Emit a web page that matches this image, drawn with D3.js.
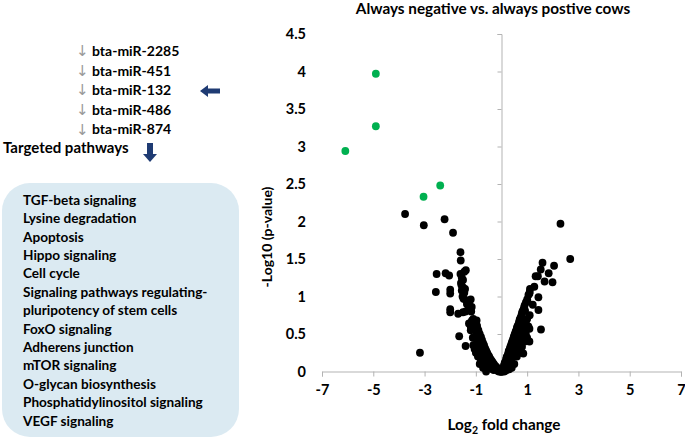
<!DOCTYPE html>
<html>
<head>
<meta charset="utf-8">
<script src="https://cdn.jsdelivr.net/npm/d3@7"></script>
<style>
  body { margin: 0; background: #fff; }
  text { font-family: Lato, "Open Sans", sans-serif; font-weight: 700; fill: #000; }
</style>
</head>
<body>
<div id="chart"></div>
<script>
// miRNAs and pathways (left panel)
var mirnas = ['bta-miR-2285', 'bta-miR-451', 'bta-miR-132', 'bta-miR-486', 'bta-miR-874'];
var pathways = ['TGF-beta signaling', 'Lysine degradation', 'Apoptosis', 'Hippo signaling', 'Cell cycle',
  'Signaling pathways regulating-', 'pluripotency of stem cells', 'FoxO signaling', 'Adherens junction',
  'mTOR signaling', 'O-glycan biosynthesis', 'Phosphatidylinositol signaling', 'VEGF signaling'];

var xTicks = [-7, -5, -3, -1, 1, 3, 5, 7];
var yTicks = [0, 0.5, 1, 1.5, 2, 2.5, 3, 3.5, 4, 4.5];

// significant miRNAs (green)
var sigPoints = [[-4.9, 3.97], [-4.9, 3.27], [-6.09, 2.94], [-2.39, 2.48], [-3.04, 2.33]];

// rest of the miRNAs (black)
var otherPoints = [
  [-3.76, 2.10], [-3.03, 1.95], [-2.22, 2.03], [-1.89, 1.85], [-1.60, 1.59], [-1.59, 1.48],
  [-2.53, 1.30], [-2.18, 1.31], [-2.04, 1.28], [-2.56, 1.06], [-2.00, 1.09], [-2.00, 1.04],
  [-2.00, 0.83], [-2.00, 0.79], [-1.69, 0.77], [-1.65, 0.47], [-1.40, 0.34], [-3.18, 0.25], [-0.60, 0.00],
  [-1.55, 1.25], [-1.50, 1.22], [-1.58, 1.18], [-1.50, 1.12], [-1.55, 1.08], [-1.45, 1.05], [-1.52, 1.00],
  [-1.48, 0.97], [-1.38, 0.95], [-1.35, 0.90], [-1.30, 0.92], [-1.25, 0.88], [-1.22, 0.84], [-1.18, 0.80],
  [-1.30, 0.82], [-1.40, 0.80], [-1.50, 0.79], [-1.20, 0.96], [-1.60, 1.30], [-1.45, 1.33], [-1.39, 1.35],
  [-1.56, 1.15], [-1.42, 1.10], [-1.16, 0.86], [-1.27, 0.64], [-1.20, 0.60], [-1.15, 0.67], [-1.10, 0.70],
  [-1.15, 0.68], [-1.10, 0.62], [-1.05, 0.66], [-1.00, 0.58], [-0.98, 0.52], [-0.95, 0.60], [-0.92, 0.48],
  [-0.90, 0.55], [-0.88, 0.44], [-0.85, 0.50], [-0.83, 0.40], [-0.80, 0.46], [-0.78, 0.36], [-0.76, 0.42],
  [-0.74, 0.33], [-0.72, 0.38], [-0.70, 0.30], [-0.68, 0.35], [-0.66, 0.27], [-0.64, 0.31], [-0.62, 0.24],
  [-0.60, 0.28], [-0.58, 0.22], [-0.56, 0.25], [-0.54, 0.19], [-0.52, 0.22], [-0.50, 0.17], [-0.48, 0.20],
  [-0.46, 0.15], [-0.44, 0.17], [-0.42, 0.13], [-0.40, 0.15], [-0.38, 0.11], [-0.36, 0.13], [-0.34, 0.09],
  [-0.32, 0.11], [-0.30, 0.08], [-0.28, 0.09], [-0.26, 0.06], [-0.24, 0.07], [-0.22, 0.05], [-0.20, 0.06],
  [-0.18, 0.04], [-0.16, 0.04], [-0.14, 0.03], [-0.12, 0.02], [-0.10, 0.02], [-0.08, 0.01], [-0.06, 0.01],
  [-0.04, 0.00], [-0.02, 0.00], [-1.20, 0.55], [-1.05, 0.45], [-0.95, 0.38], [-0.90, 0.30], [-1.00, 0.25],
  [-0.85, 0.22], [-0.75, 0.20], [-0.70, 0.15], [-0.60, 0.12], [-0.50, 0.08], [-0.45, 0.05], [-0.35, 0.03],
  [-0.30, 0.02], [-0.55, 0.05], [-0.65, 0.08], [-0.80, 0.15], [-1.10, 0.35], [-0.97, 0.68], [-0.97, 0.62],
  [-1.12, 0.45], [-1.05, 0.30], [-0.92, 0.20], [-0.85, 0.10], [-0.72, 0.05],
  [-0.10, 0.00], [0.00, 0.00], [0.10, 0.00], [-0.15, 0.01], [0.15, 0.01],
  [0.02, 0.00], [0.05, 0.03], [0.08, 0.06], [0.10, 0.08], [0.12, 0.11], [0.15, 0.13], [0.18, 0.16],
  [0.20, 0.19], [0.22, 0.20], [0.25, 0.23], [0.28, 0.27], [0.30, 0.28], [0.33, 0.31], [0.35, 0.33],
  [0.38, 0.36], [0.40, 0.38], [0.42, 0.40], [0.45, 0.43], [0.48, 0.46], [0.50, 0.48], [0.52, 0.50],
  [0.55, 0.53], [0.58, 0.55], [0.60, 0.58], [0.62, 0.60], [0.65, 0.62], [0.68, 0.65], [0.70, 0.68],
  [0.72, 0.70], [0.75, 0.72], [0.78, 0.75], [0.80, 0.78], [0.82, 0.80], [0.85, 0.82], [0.88, 0.85],
  [0.90, 0.88], [0.95, 0.92], [1.00, 0.96], [1.05, 1.02], [1.10, 1.06],
  [0.15, 0.05], [0.20, 0.08], [0.25, 0.10], [0.30, 0.12], [0.35, 0.15], [0.40, 0.18], [0.45, 0.20],
  [0.50, 0.25], [0.55, 0.28], [0.60, 0.30], [0.65, 0.35], [0.70, 0.40], [0.75, 0.45], [0.80, 0.50],
  [0.85, 0.55], [0.90, 0.60], [0.95, 0.65], [1.00, 0.70], [0.60, 0.20], [0.70, 0.25], [0.80, 0.33],
  [0.90, 0.40], [1.00, 0.45], [0.50, 0.10], [0.40, 0.05], [0.30, 0.03], [0.10, 0.01], [0.20, 0.02],
  [1.10, 0.75], [1.05, 0.60], [0.95, 0.50], [0.85, 0.24], [1.09, 0.40], [1.09, 0.57], [1.54, 0.56],
  [0.92, 0.81], [1.22, 0.89], [1.44, 0.99], [1.44, 0.82], [1.01, 0.94], [1.09, 1.04], [1.11, 1.10],
  [1.28, 1.13], [1.68, 1.20], [1.99, 1.19], [1.33, 1.27], [1.42, 1.27], [1.84, 1.31], [1.53, 1.36],
  [2.05, 1.41], [1.60, 1.45], [2.68, 1.50], [2.30, 1.97]
];

var width = 685, height = 439;

var svg = d3.select('#chart').append('svg')
  .attr('width', width)
  .attr('height', height);

// ---- left panel ----
var arrowBlue = '#1f3b73';

var mir = svg.append('g');
mirnas.forEach(function(m, i) {
  var yy = 51 + i * 19.6;
  mir.append('text')
    .attr('x', 76).attr('y', yy).attr('dy', '0.35em')
    .style('font-family', 'DejaVu Sans').style('font-weight', 400)
    .style('font-size', '15px').style('fill', '#999999')
    .text('\u2193');
  mir.append('text')
    .attr('x', 92).attr('y', yy).attr('dy', '0.35em')
    .style('font-size', '14px')
    .text(m);
});

// block arrow pointing at the miRNAs
svg.append('path')
  .attr('d', 'M200,91 L208,85 L208,88.5 L220,88.5 L220,93.5 L208,93.5 L208,97 Z')
  .attr('fill', arrowBlue);

svg.append('text')
  .attr('x', 3).attr('y', 148).attr('dy', '0.35em')
  .style('font-size', '15px')
  .text('Targeted pathways');

// block arrow pointing down
svg.append('path')
  .attr('d', 'M147,143 L153,143 L153,154 L157,154 L150,162 L143,154 L147,154 Z')
  .attr('fill', arrowBlue);

svg.append('rect')
  .attr('x', 2).attr('y', 183)
  .attr('width', 237).attr('height', 254)
  .attr('rx', 28).attr('ry', 28)
  .attr('fill', '#dbeaf2');

svg.append('g').selectAll('text')
  .data(pathways)
  .enter().append('text')
  .attr('x', 23)
  .attr('y', function(d, i) { return 200 + i * 18.4; })
  .attr('dy', '0.35em')
  .style('font-size', '13.6px')
  .text(function(d) { return d; });

// ---- volcano plot ----
var x = d3.scaleLinear().domain([-7, 7]).range([322, 681]);
var y = d3.scaleLinear().domain([0, 4.5]).range([371.5, 34]);

var axisColor = '#b3b3b3';

var yAxis = svg.append('g')
  .attr('transform', 'translate(' + x(0) + ',0)')
  .call(d3.axisLeft(y).tickValues(yTicks).tickSize(4).tickFormat(''));
yAxis.selectAll('path, line').attr('stroke', axisColor);

var xAxis = svg.append('g')
  .attr('transform', 'translate(0,' + y(0) + ')')
  .call(d3.axisBottom(x).tickValues(xTicks).tickSize(5).tickPadding(8)
    .tickFormat(function(d) { return String(d); }));
xAxis.selectAll('path, line').attr('stroke', axisColor);
xAxis.selectAll('text')
  .style('font-family', 'Lato, sans-serif').style('font-weight', 700)
  .style('font-size', '14.5px').attr('fill', '#000');

// y tick labels sit at the left edge of the plot
svg.append('g').selectAll('text')
  .data(yTicks)
  .enter().append('text')
  .attr('x', 306)
  .attr('y', function(d) { return y(d); })
  .attr('dy', '0.35em')
  .attr('text-anchor', 'end')
  .style('font-size', '14.5px')
  .text(function(d) { return d; });

svg.append('g').selectAll('circle')
  .data(otherPoints)
  .enter().append('circle')
  .attr('cx', function(d) { return x(d[0]); })
  .attr('cy', function(d) { return y(d[1]); })
  .attr('r', 3.9)
  .attr('fill', '#000');

svg.append('g').selectAll('circle')
  .data(sigPoints)
  .enter().append('circle')
  .attr('cx', function(d) { return x(d[0]); })
  .attr('cy', function(d) { return y(d[1]); })
  .attr('r', 3.9)
  .attr('fill', '#00b050');

// titles
svg.append('text')
  .attr('x', 493).attr('y', 9).attr('dy', '0.35em')
  .attr('text-anchor', 'middle')
  .style('font-size', '15.3px')
  .text('Always negative vs. always postive cows');

var xt = svg.append('text')
  .attr('x', 504).attr('y', 425).attr('dy', '0.35em')
  .attr('text-anchor', 'middle')
  .style('font-size', '15.3px');
xt.append('tspan').text('Log');
xt.append('tspan').attr('dy', '4').style('font-size', '10.5px').text('2');
xt.append('tspan').attr('dy', '-4').text(' fold change');

svg.append('text')
  .attr('transform', 'translate(267,237) rotate(-90)')
  .attr('dy', '0.35em')
  .attr('text-anchor', 'middle')
  .style('font-size', '14px')
  .text('-Log10 (p-value)');
</script>
</body>
</html>
